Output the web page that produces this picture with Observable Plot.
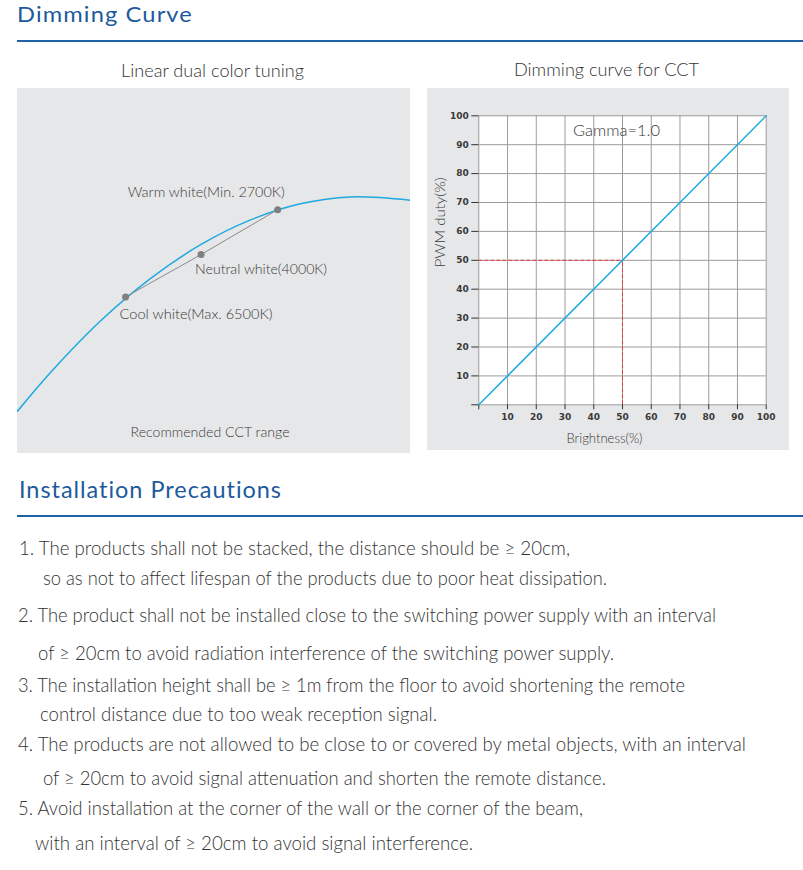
<!DOCTYPE html>
<html><head><meta charset="utf-8">
<script src="https://cdn.jsdelivr.net/npm/d3@7"></script>
<script src="https://cdn.jsdelivr.net/npm/@observablehq/plot@0.6"></script>
<style>
html,body{margin:0;padding:0;background:#fff;}
#page{position:relative;width:803px;height:870px;overflow:hidden;font-family:Lato,"Open Sans",sans-serif;}
.t{position:absolute;white-space:nowrap;line-height:1;transform-origin:0 0;display:inline-block;}
.h{color:#1d5a9c;letter-spacing:1px;font-weight:400;}
.sub{color:#333;font-weight:300;}
.body{color:#333;font-weight:300;}
.rule{position:absolute;height:1.5px;background:#1f62a6;}
.panel{position:absolute;}
</style></head><body><div id="page"></div>
<script>
// ---------- data ----------
const pageTitle = "Dimming Curve";
const sectionTitle = "Installation Precautions";
const leftTitle = "Linear dual color tuning";
const rightTitle = "Dimming curve for CCT";

// left: CCT curve (relative units 0-100 across the panel)
const cctCurveX = [0, 8.4, 21.1, 33.8, 46.6, 59.3, 72.0, 84.7, 100];
const cctCurveY = [11.6, 22.2, 36.3, 47.9, 57.2, 64.0, 68.4, 70.3, 69.4];
const cctPointNames = ["Cool white(Max. 6500K)", "Neutral white(4000K)", "Warm white(Min. 2700K)"];
const cctPointX = [27.5, 46.7, 66.2];
const cctPointY = [42.9, 54.5, 66.8];
const cctCaption = "Recommended CCT range";

// right: dimming curve
const brightness = [0, 100];
const pwmDuty = [0, 100];
const markerBrightness = 50;
const markerDuty = 50;
const axisTicks = [0, 10, 20, 30, 40, 50, 60, 70, 80, 90, 100];
const gammaLabel = "Gamma=1.0";
const xLabel = "Brightness(%)";
const yLabel = "PWM duty(%)";

const precautionLines = [
  "1. The products shall not be stacked, the distance should be \u2265 20cm,",
  "so as not to affect lifespan of the products due to poor heat dissipation.",
  "2. The product shall not be installed close to the switching power supply with an interval",
  "of \u2265 20cm to avoid radiation interference of the switching power supply.",
  "3. The installation height shall be \u2265 1m from the floor to avoid shortening the remote",
  "control distance due to too weak reception signal.",
  "4. The products are not allowed to be close to or covered by metal objects, with an interval",
  "of \u2265 20cm to avoid signal attenuation and shorten the remote distance.",
  "5. Avoid installation at the corner of the wall or the corner of the beam,",
  "with an interval of \u2265 20cm to avoid signal interference."
];

// ---------- layout (positions / sizes) ----------
const bodyLayout = [ // [left, right, baseline]
  [19, 570, 555], [43, 607, 585], [18, 716, 622], [38, 614, 660], [18, 685, 692],
  [40, 437, 721], [18, 746, 751], [43, 606, 785], [18, 583, 815], [35, 473, 850]
];

const page = document.getElementById("page");

function addText(str, cls, fs, left, right, baseline) {
  const el = document.createElement("span");
  el.className = "t " + cls;
  el.textContent = str;
  el.style.fontSize = fs + "px";
  el.style.left = left + "px";
  el.style.top = (baseline - 0.887 * fs) + "px";
  page.appendChild(el);
  const w = el.getBoundingClientRect().width;
  el.style.transform = `scaleX(${(right - left) / w})`;
  return el;
}
function addRule(top) {
  const r = document.createElement("div");
  r.className = "rule";
  r.style.left = "17px"; r.style.width = "786px"; r.style.top = top + "px";
  page.appendChild(r);
}

addText(pageTitle, "h", 21, 17, 193, 22);
addRule(40);
addText(leftTitle, "sub", 18, 121, 304, 77);
addText(rightTitle, "sub", 18, 514, 699, 76);
addText(sectionTitle, "h", 24, 19, 282, 498);
addRule(515);
precautionLines.forEach((s, i) => {
  const [l, r, b] = bodyLayout[i];
  addText(s, "body", 20, l, r, b);
});

// ---------- left chart ----------
const curve = cctCurveX.map((x, i) => ({x, y: cctCurveY[i]}));
const pts = cctPointNames.map((name, i) => ({name, x: cctPointX[i], y: cctPointY[i]}));
const labelLayout = [
  {dx: -6, dy: 18, anchor: "start"},
  {dx: -6, dy: 15, anchor: "start"},
  {dx: 7, dy: -17, anchor: "end"}
];
const leftPlot = Plot.plot({
  width: 393, height: 365, margin: 0,
  x: {domain: [0, 100], axis: null},
  y: {domain: [0, 100], axis: null},
  style: {background: "#e6e7e8", fontFamily: "Lato, sans-serif", overflow: "hidden"},
  marks: [
    Plot.line(curve, {x: "x", y: "y", curve: "catmull-rom", stroke: "#1ea9e1", strokeWidth: 1.5}),
    Plot.line(pts, {x: "x", y: "y", stroke: "#8a8a8a", strokeWidth: 1}),
    Plot.dot(pts, {x: "x", y: "y", r: 3.5, fill: "#7f7f7f"}),
    ...pts.map((p, i) => Plot.text([p], {
      x: "x", y: "y", text: "name", dx: labelLayout[i].dx, dy: labelLayout[i].dy,
      textAnchor: labelLayout[i].anchor, lineAnchor: "middle", fontSize: 14, fontWeight: 300, fill: "#3a3a3a"
    })),
    Plot.text([cctCaption], {frameAnchor: "bottom", dx: -4, dy: -21, lineAnchor: "middle", fontSize: 14, fontWeight: 300, fill: "#3a3a3a"})
  ]
});
leftPlot.classList.add("panel");
leftPlot.style.left = "17px"; leftPlot.style.top = "88px";
page.appendChild(leftPlot);

// ---------- right chart ----------
const lineData = brightness.map((b, i) => ({b, d: pwmDuty[i]}));
const fmt = d => d === 0 ? "" : String(d);
const rightPlot = Plot.plot({
  width: 362, height: 362,
  marginLeft: 51.3, marginRight: 23.3, marginTop: 27.3, marginBottom: 45.7,
  x: {domain: [0, 100]},
  y: {domain: [0, 100]},
  style: {background: "#e6e7e8", fontFamily: "DejaVu Sans, sans-serif", fontSize: "9px", color: "#333", overflow: "visible"},
  marks: [
    Plot.frame({fill: "white", stroke: "none"}),
    Plot.gridX(axisTicks, {stroke: "#9c9c9c", strokeOpacity: 1}),
    Plot.gridY(axisTicks, {stroke: "#9c9c9c", strokeOpacity: 1}),
    Plot.axisX(axisTicks, {tickSize: 5, tickPadding: 4, tickFormat: fmt, label: null, fill: "#3a3a3a", fontWeight: "bold"}),
    Plot.axisY(axisTicks, {tickSize: 7, tickPadding: 3, tickFormat: fmt, label: null, fill: "#3a3a3a", fontWeight: "bold"}),
    Plot.ruleY([markerDuty], {x1: 0, x2: markerBrightness, stroke: "#e2383b", strokeDasharray: "4,2"}),
    Plot.ruleX([markerBrightness], {y1: 0, y2: markerDuty, stroke: "#e2383b", strokeDasharray: "4,2"}),
    Plot.line(lineData, {x: "b", y: "d", stroke: "#1ea9e1", strokeWidth: 1.5}),
    Plot.text([gammaLabel], {frameAnchor: "top", dx: -6, dy: 15, lineAnchor: "middle", fontSize: 15, fontWeight: 300, fontFamily: "Lato, sans-serif", fill: "#3a3a3a"}),
    Plot.text([yLabel], {frameAnchor: "left", rotate: -90, dx: -38, dy: 7, lineAnchor: "middle", fontSize: 13, fontWeight: 300, fontFamily: "Lato, sans-serif", fill: "#3a3a3a"}),
    Plot.text([xLabel], {frameAnchor: "bottom", dx: -18, dy: 34, lineAnchor: "middle", fontSize: 13, fontWeight: 300, fontFamily: "Lato, sans-serif", fill: "#3a3a3a"})
  ]
});
rightPlot.classList.add("panel");
rightPlot.style.left = "427px"; rightPlot.style.top = "88px";
page.appendChild(rightPlot);

// fit SVG label widths to the reference
const svgFit = new Map([
  [cctPointNames[0], 153], [cctPointNames[1], 132], [cctPointNames[2], 157],
  [cctCaption, 159], [gammaLabel, 87], [yLabel, 90], [xLabel, 76]
]);
document.querySelectorAll("#page svg text").forEach(t => {
  const w = svgFit.get(t.textContent);
  if (w) { t.setAttribute("textLength", w); t.setAttribute("lengthAdjust", "spacingAndGlyphs"); }
});
</script>
</body></html>
